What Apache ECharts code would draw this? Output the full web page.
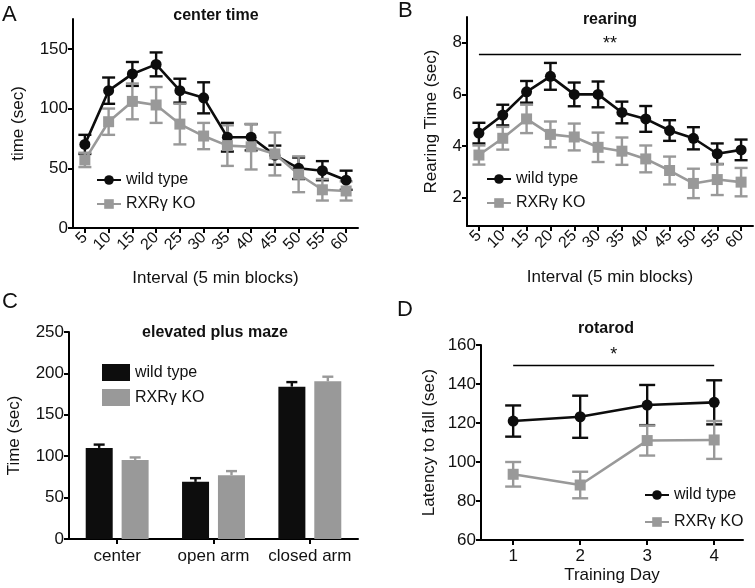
<!DOCTYPE html>
<html><head><meta charset="utf-8">
<script src="https://cdn.jsdelivr.net/npm/echarts@6/dist/echarts.min.js"></script>
<style>html,body{margin:0;padding:0;background:#fff}#c{width:755px;height:588px}</style>
</head><body><div id="c"></div>
<script>
// ---- data ----
const intervals = ['5','10','15','20','25','30','35','40','45','50','55','60'];
const ctWT    = [70,115,129,137,115,109,76,76,61,50,48,40];
const ctWTErr = [8,11,10,10,10,13,12,11,8,9,8,8];
const ctKO    = [57,89,106,103,87,77,69,68,62,45,32,31];
const ctKOErr = [6,11,15,15,17,11,17,19,18,15,9,8];

const rearWT    = [4.5,5.2,6.1,6.7,6.0,6.0,5.3,5.05,4.6,4.3,3.7,3.85];
const rearWTErr = [0.4,0.4,0.42,0.52,0.46,0.5,0.42,0.5,0.4,0.43,0.4,0.4];
const rearKO    = [3.65,4.3,5.05,4.45,4.35,3.95,3.8,3.5,3.05,2.55,2.7,2.6];
const rearKOErr = [0.37,0.44,0.55,0.5,0.52,0.57,0.53,0.52,0.54,0.57,0.6,0.55];
const rearSig = 7.55;

const epmCats  = ['center','open arm','closed arm'];
const epmWT    = [110,69,184];
const epmWTErr = [4,4.5,5.5];
const epmKO    = [95.5,77,190.5];
const epmKOErr = [3,5,5.5];

const days     = [1,2,3,4];
const rotWT    = [121,123.2,129.2,130.6];
const rotWTErr = [8,10.8,10.3,11.3];
const rotKO    = [93.7,88.2,111,111.3];
const rotKOErr = [6.3,6.8,7.7,9.7];
const rotSig = 149.7;

const ctTicks = [0,50,100,150];
const rearTicks = [2,4,6,8];
const epmTicks = [0,50,100,150,200,250];
const rotTicks = [60,80,100,120,140,160];

const WT = 'wild type', KO = 'RXRγ KO';
const BLACK = '#0d0d0d', GRAY = '#999999';
const FONT = 'Liberation Sans, Arial, sans-serif';

// ---- helpers ----
function errSeries(xi, yi, xs, vals, errs, color, cap, offset, upperOnly) {
  return {
    type: 'custom', xAxisIndex: xi, yAxisIndex: yi, silent: true,
    data: xs.map((x, i) => [x, vals[i], errs[i]]),
    encode: {x: 0, y: 1},
    renderItem: function (params, api) {
      const x = api.value(0), y = api.value(1), e = api.value(2);
      const hi = api.coord([x, y + e]);
      const lo = api.coord(upperOnly ? [x, y] : [x, y - e]);
      const cx = hi[0] + (offset || 0);
      const style = {stroke: color, lineWidth: 2.4, fill: null};
      const ch = [
        {type: 'line', shape: {x1: cx, y1: hi[1], x2: cx, y2: lo[1]}, style: style},
        {type: 'line', shape: {x1: cx - cap/2, y1: hi[1], x2: cx + cap/2, y2: hi[1]}, style: style}
      ];
      if (!upperOnly) ch.push({type: 'line', shape: {x1: cx - cap/2, y1: lo[1], x2: cx + cap/2, y2: lo[1]}, style: style});
      return {type: 'group', children: ch};
    }
  };
}
function lineSeries(name, xi, yi, data, color, symbol) {
  return {
    name: name, type: 'line', xAxisIndex: xi, yAxisIndex: yi, data: data,
    symbol: symbol, symbolSize: 11, lineStyle: {color: color, width: 2.6},
    itemStyle: {color: color}, emphasis: {disabled: true}
  };
}
const axLine = {show: true, lineStyle: {color: '#000', width: 2}};
const axTick = {show: true, length: 5, lineStyle: {color: '#000', width: 2}};
const lab = {color: '#111', fontFamily: FONT, fontSize: 17};
const nameStyle = {color: '#111', fontFamily: FONT, fontSize: 17};
const titleStyle = {fontSize: 16, fontWeight: 'bold', color: '#111', fontFamily: FONT};
const letterStyle = {fontSize: 22, fontWeight: 'normal', color: '#111', fontFamily: FONT};
const legText = {fontSize: 16, color: '#111', fontFamily: FONT};

const option = {
  animation: false,
  backgroundColor: '#fff',
  textStyle: {fontFamily: FONT},
  title: [
    {text: 'A', left: 2, top: 4, padding: 0, textStyle: letterStyle},
    {text: 'B', left: 398, top: 0, padding: 0, textStyle: letterStyle},
    {text: 'C', left: 2, top: 291, padding: 0, textStyle: letterStyle},
    {text: 'D', left: 397, top: 299, padding: 0, textStyle: letterStyle},
    {text: 'center time', left: 216, top: 8, textAlign: 'center', padding: 0, textStyle: titleStyle},
    {text: 'rearing', left: 610, top: 12, textAlign: 'center', padding: 0, textStyle: titleStyle},
    {text: 'elevated plus maze', left: 215, top: 325, textAlign: 'center', padding: 0, textStyle: titleStyle},
    {text: 'rotarod', left: 606, top: 321, textAlign: 'center', padding: 0, textStyle: titleStyle}
  ],
  legend: [
    {orient: 'vertical', left: 96, top: 172, itemWidth: 24, itemHeight: 12, itemGap: 8, padding: 0,
     selectedMode: false, textStyle: legText, data: [WT, KO]},
    {orient: 'vertical', left: 486, top: 171, itemWidth: 24, itemHeight: 12, itemGap: 8, padding: 0,
     selectedMode: false, textStyle: legText, data: [WT, KO]},
    {orient: 'vertical', left: 102, top: 364, itemWidth: 28, itemHeight: 17, itemGap: 8, padding: 0,
     selectedMode: false, textStyle: legText,
     data: [{name: WT, icon: 'rect', itemStyle: {color: BLACK}}, {name: KO, icon: 'rect', itemStyle: {color: GRAY}}]},
    {orient: 'vertical', left: 644, top: 487, itemWidth: 24, itemHeight: 12, itemGap: 11, padding: 0,
     selectedMode: false, textStyle: legText, data: [WT, KO]}
  ],
  grid: [
    {left: 73, top: 19, width: 285, height: 209},
    {left: 467, top: 17, width: 286, height: 209},
    {left: 69, top: 332, width: 289, height: 207},
    {left: 481, top: 345, width: 262, height: 195}
  ],
  xAxis: [
    {gridIndex: 0, type: 'category', data: intervals, axisLine: axLine,
     axisTick: Object.assign({alignWithLabel: true, interval: 0}, axTick),
     axisLabel: Object.assign({}, lab, {fontSize: 16, rotate: 45, margin: 7, interval: 0}),
     name: 'Interval (5 min blocks)', nameLocation: 'middle', nameGap: 42, nameTextStyle: nameStyle},
    {gridIndex: 1, type: 'category', data: intervals, axisLine: axLine,
     axisTick: Object.assign({alignWithLabel: true, interval: 0}, axTick),
     axisLabel: Object.assign({}, lab, {fontSize: 16, rotate: 45, margin: 7, interval: 0}),
     name: 'Interval (5 min blocks)', nameLocation: 'middle', nameGap: 43, nameTextStyle: nameStyle},
    {gridIndex: 2, type: 'category', data: epmCats, axisLine: axLine,
     axisTick: Object.assign({alignWithLabel: true, interval: 0}, axTick),
     axisLabel: Object.assign({}, lab, {margin: 9, interval: 0})},
    {gridIndex: 3, type: 'value', min: 0.52, max: 4.43, axisLine: axLine,
     axisTick: Object.assign({customValues: days}, axTick), splitLine: {show: false},
     axisLabel: Object.assign({customValues: days}, lab, {margin: 8}),
     name: 'Training Day', nameLocation: 'middle', nameGap: 27, nameTextStyle: nameStyle}
  ],
  yAxis: [
    {gridIndex: 0, type: 'value', min: 0, max: 175, axisLine: axLine, splitLine: {show: false},
     axisTick: Object.assign({customValues: ctTicks}, axTick),
     axisLabel: Object.assign({customValues: ctTicks}, lab, {margin: 5}),
     name: 'time (sec)', nameLocation: 'middle', nameGap: 46, nameTextStyle: nameStyle},
    {gridIndex: 1, type: 'value', min: 0.9, max: 9, axisLine: axLine, splitLine: {show: false},
     axisTick: Object.assign({customValues: rearTicks}, axTick),
     axisLabel: Object.assign({customValues: rearTicks}, lab, {margin: 5}),
     name: 'Rearing Time (sec)', nameLocation: 'middle', nameGap: 27, nameTextStyle: nameStyle},
    {gridIndex: 2, type: 'value', min: 0, max: 250, axisLine: axLine, splitLine: {show: false},
     axisTick: Object.assign({customValues: epmTicks}, axTick),
     axisLabel: Object.assign({customValues: epmTicks}, lab, {margin: 5}),
     name: 'Time (sec)', nameLocation: 'middle', nameGap: 46, nameTextStyle: nameStyle},
    {gridIndex: 3, type: 'value', min: 60, max: 160, axisLine: axLine, splitLine: {show: false},
     axisTick: Object.assign({customValues: rotTicks}, axTick),
     axisLabel: Object.assign({customValues: rotTicks}, lab, {margin: 5}),
     name: 'Latency to fall (sec)', nameLocation: 'middle', nameGap: 43, nameTextStyle: nameStyle}
  ],
  series: [
    // A
    lineSeries(WT, 0, 0, ctWT, BLACK, 'circle'),
    lineSeries(KO, 0, 0, ctKO, GRAY, 'rect'),
    errSeries(0, 0, intervals.map((c, i) => i), ctWT, ctWTErr, BLACK, 13),
    errSeries(0, 0, intervals.map((c, i) => i), ctKO, ctKOErr, GRAY, 13),
    // B
    errSeries(1, 1, intervals.map((c, i) => i), rearWT, rearWTErr, BLACK, 13),
    Object.assign(lineSeries(WT, 1, 1, rearWT, BLACK, 'circle'), {
      markLine: {silent: true, symbol: ['none', 'none'], lineStyle: {color: '#000', width: 1.3, type: 'solid'},
        label: {show: true, position: 'middle', formatter: '**', fontSize: 18, color: '#111', distance: 1},
        data: [[{coord: [intervals[0], rearSig]}, {coord: [intervals[intervals.length - 1], rearSig]}]]}
    }),
    errSeries(1, 1, intervals.map((c, i) => i), rearKO, rearKOErr, GRAY, 13),
    lineSeries(KO, 1, 1, rearKO, GRAY, 'rect'),
    // C
    {name: WT, type: 'bar', xAxisIndex: 2, yAxisIndex: 2, data: epmWT, barWidth: 27, barGap: '33%', itemStyle: {color: BLACK}},
    {name: KO, type: 'bar', xAxisIndex: 2, yAxisIndex: 2, data: epmKO, barWidth: 27, barGap: '33%', itemStyle: {color: GRAY}},
    errSeries(2, 2, epmCats.map((c, i) => i), epmWT, epmWTErr, BLACK, 11, -18, true),
    errSeries(2, 2, epmCats.map((c, i) => i), epmKO, epmKOErr, GRAY, 11, 18, true),
    // D
    errSeries(3, 3, days, rotWT, rotWTErr, BLACK, 16),
    Object.assign(lineSeries(WT, 3, 3, days.map((d, i) => [d, rotWT[i]]), BLACK, 'circle'), {
      markLine: {silent: true, symbol: ['none', 'none'], lineStyle: {color: '#000', width: 1.3, type: 'solid'},
        label: {show: true, position: 'middle', formatter: '*', fontSize: 18, color: '#111', distance: 1},
        data: [[{coord: [days[0], rotSig]}, {coord: [days[days.length - 1], rotSig]}]]}
    }),
    errSeries(3, 3, days, rotKO, rotKOErr, GRAY, 16),
    lineSeries(KO, 3, 3, days.map((d, i) => [d, rotKO[i]]), GRAY, 'rect')
  ]
};
const chart = echarts.init(document.getElementById('c'), null, {renderer: 'canvas'});
chart.setOption(option);
</script></body></html>
